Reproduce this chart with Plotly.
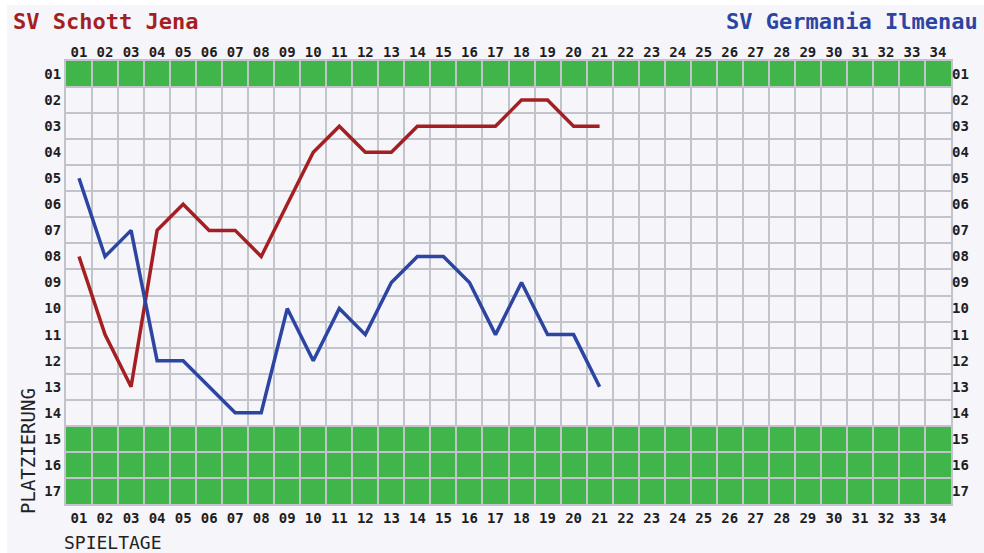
import plotly.graph_objects as go

matchdays = list(range(1, 35))
match_labels = [f"{i:02d}" for i in matchdays]
places = list(range(1, 18))
place_labels = [f"{i:02d}" for i in places]

jena_days = list(range(1, 22))
jena_pos = [8, 11, 13, 7, 6, 7, 7, 8, 6, 4, 3, 4, 4, 3, 3, 3, 3, 2, 2, 3, 3]
ilmenau_days = list(range(1, 22))
ilmenau_pos = [5, 8, 7, 12, 12, 13, 14, 14, 10, 12, 10, 11, 9, 8, 8, 9, 11, 9, 11, 11, 13]

green_rows = [1, 15, 16, 17]

team_home = "SV Schott Jena"
team_away = "SV Germania Ilmenau"

RED = "#a51f22"
BLUE = "#2c45a2"
GREEN = "#3fb54a"
GRID = "#c3c3cb"
BG = "#f5f5fa"
MONO = "DejaVu Sans Mono"

# page offset of the figure (body margin)
OX, OY = 7, 5
W, H = 984 - OX, 553 - OY
# plot area in page pixels: x 66..951, y 61..504
L, R, T, B = 66 - OX, W - (951 - OX), 61 - OY, H - (504 - OY)
pw, ph = W - L - R, H - T - B


def px(x):
    return (x - OX - L) / pw


def py(y):
    return (H - B - (y - OY)) / ph


fig = go.Figure()

shapes = []
for r in green_rows:
    shapes.append(dict(type="rect", xref="x", yref="y", x0=0.5, x1=34.5,
                       y0=r - 0.5, y1=r + 0.5, fillcolor=GREEN, line_width=0,
                       layer="below"))

fig.add_trace(go.Scatter(x=jena_days, y=jena_pos, mode="lines",
                         line=dict(color=RED, width=3.5), showlegend=False, hoverinfo="skip"))
fig.add_trace(go.Scatter(x=ilmenau_days, y=ilmenau_pos, mode="lines",
                         line=dict(color=BLUE, width=3.5), showlegend=False, hoverinfo="skip"))
# invisible trace to activate secondary axes
fig.add_trace(go.Scatter(x=[1], y=[1], xaxis="x2", yaxis="y2", mode="markers",
                         marker=dict(opacity=0), showlegend=False, hoverinfo="skip"))

tickfont = dict(family=MONO, size=14, color="#1e1e1e", weight="bold")
axis_common = dict(showgrid=False, zeroline=False, ticks="",
                   tickfont=tickfont, automargin=False)
minor_grid = dict(tick0=0.5, dtick=1, showgrid=True, gridcolor=GRID, gridwidth=2, ticks="")

fig.update_layout(
    width=W, height=H,
    margin=dict(l=L, r=R, t=T, b=B, autoexpand=False),
    paper_bgcolor=BG, plot_bgcolor=BG,
    shapes=shapes,
    xaxis=dict(range=[0.5, 34.5], tickmode="array", tickvals=matchdays, ticktext=match_labels,
               minor=minor_grid, showline=True, linecolor=GRID, linewidth=2, mirror=True,
               **axis_common),
    yaxis=dict(range=[17.5, 0.5], tickmode="array", tickvals=places, ticktext=place_labels,
               minor=minor_grid, showline=True, linecolor=GRID, linewidth=2, mirror=True,
               **axis_common),
    xaxis2=dict(range=[0.5, 34.5], overlaying="x", side="top", tickmode="array",
                tickvals=matchdays, ticktext=match_labels, **axis_common),
    yaxis2=dict(range=[17.5, 0.5], overlaying="y", side="right", tickmode="array",
                tickvals=places, ticktext=place_labels, **axis_common),
    annotations=[
        dict(text=f"<b>{team_home}</b>", xref="paper", yref="paper", x=px(11), y=py(21),
             xanchor="left", yanchor="middle", showarrow=False,
             font=dict(family=MONO, size=22, color=RED)),
        dict(text=f"<b>{team_away}</b>", xref="paper", yref="paper", x=px(980), y=py(21),
             xanchor="right", yanchor="middle", showarrow=False,
             font=dict(family=MONO, size=22, color=BLUE)),
        dict(text="PLATZIERUNG", xref="paper", yref="paper", x=px(28), y=py(516),
             xanchor="center", yanchor="bottom", textangle=-90, showarrow=False,
             font=dict(family=MONO, size=19, color="#222222")),
        dict(text="SPIELTAGE", xref="paper", yref="paper", x=px(62), y=py(542),
             xanchor="left", yanchor="middle", showarrow=False,
             font=dict(family=MONO, size=18, color="#222222")),
    ],
)

fig.write_html("out.html", post_script=f"document.body.style.margin='{OY}px 0 0 {OX}px';")
